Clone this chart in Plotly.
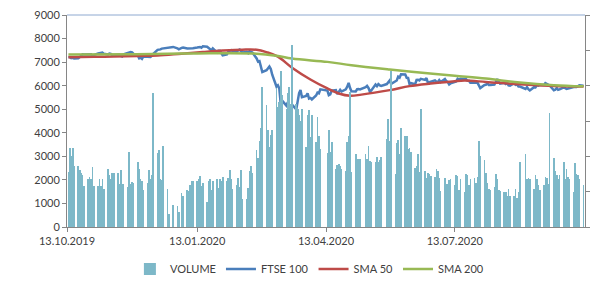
import pandas as pd
import plotly.graph_objects as go

# ---- trading days (UK market, 14.10.2019 - 12.10.2020) ----
holidays = ["2019-12-25", "2019-12-26", "2020-01-01", "2020-04-10",
            "2020-04-13", "2020-05-08", "2020-05-25", "2020-08-31"]
days = pd.bdate_range("2019-10-14", "2020-10-12")
days = [d for d in days if d.strftime("%Y-%m-%d") not in holidays]

ftse = [
    7213, 7211, 7168, 7182, 7150,
    7164, 7212, 7260, 7328, 7324,
    7331, 7306, 7330, 7248, 7302,
    7369, 7388, 7396, 7406, 7359,
    7328, 7365, 7351, 7292, 7303,
    7307, 7323, 7262, 7238, 7327,
    7396, 7405, 7430, 7416, 7347,
    7285, 7158, 7188, 7137, 7240,
    7233, 7213, 7216, 7273, 7353,
    7519, 7525, 7541, 7573, 7582,
    7623, 7632, 7645,
    7587, 7542, 7604, 7622,
    7575, 7573, 7574, 7598, 7588,
    7617, 7622, 7642, 7609, 7675,
    7651, 7611, 7571, 7507, 7586,
    7412, 7481, 7484, 7381, 7286,
    7326, 7439, 7483, 7505, 7466,
    7446, 7499, 7534, 7452, 7409,
    7433, 7382, 7457, 7436, 7404,
    7157, 7018, 7042, 6796, 6581,
    6654, 6718, 6815, 6705, 6463,
    5965, 6018, 5876, 5237, 5366,
    5151, 5294, 5080, 5151, 5191,
    4994, 5446, 5688, 5816, 5510,
    5563, 5672, 5454, 5480, 5416,
    5582, 5704, 5678, 5843,
    5791, 5597, 5628, 5787,
    5812, 5641, 5770, 5826, 5752,
    5846, 5958, 6115, 5901, 5763,
    5753, 5849, 5854, 5841,
    5939, 5994, 5904, 5741, 5800,
    6049, 5980, 6067, 6015, 5993,
    6068, 6144, 6219, 6077,
    6166, 6220, 6382, 6341, 6484,
    6473, 6335, 6329, 6076, 6105,
    6064, 6243, 6253, 6224, 6292,
    6245, 6320, 6124, 6147, 6159,
    6225, 6170, 6158, 6240, 6157,
    6286, 6189, 6156, 6050, 6095,
    6176, 6180, 6293, 6250, 6290,
    6261, 6269, 6207, 6211, 6123,
    6104, 6129, 6132, 5990, 5898,
    6032, 6036, 6104, 6026, 6032,
    6050, 6154, 6280, 6185, 6090,
    6127, 6076, 6111, 6013, 6001,
    6104, 6037, 6045, 5964, 5963,
    5862, 5941, 5851, 5799,
    5937, 5930, 6012, 6003, 6032,
    6026, 6105, 6078, 6049, 6007,
    5804, 5829, 5899, 5822, 5843,
    5927, 5897, 5866, 5879, 5902,
    5942, 5949, 5946, 5978, 6017,
    6001,
]

volume = [
    2330, 3370, 3000, 3370, 2600,
    2570, 2400, 2300, 2190, 1720,
    2030, 2120, 2020, 2530, 1750,
    1750, 2020, 1760, 2020, 1600,
    2460, 2190, 2020, 2310, 2300,
    2290, 1820, 2440, 1830, 1820,
    1700, 3170, 1820, 1890, 1870,
    2780, 2470, 2040, 1950, 1550,
    1850, 2440, 2040, 2190, 5700,
    3140, 3280, 2030, 1990, 3460,
    1620, 570, 940,
    910, 650, 1450, 1330,
    1560, 1530, 1800, 1960, 1950,
    1950, 2040, 2170, 1720, 1860,
    1050, 1960, 2020, 1590, 1970,
    2020, 1640, 2030, 1950, 2130,
    1950, 2100, 2440, 2020, 1620,
    1780, 2090, 1700, 2430, 1180,
    1190, 1650, 2360, 2600, 2300,
    3250, 2930, 3660, 4200, 5940,
    5200, 4100, 3400, 3900, 4100,
    5880, 5100, 5300, 6630, 5590,
    5030, 5670, 5960, 5240, 7740,
    5240, 5000, 4740, 4520, 5030,
    3390, 4770, 4980, 3800, 4740,
    3610, 4690, 3860, 3320,
    3160, 4100, 3180, 3600,
    2460, 2640, 2670, 2600, 2470,
    2370, 3590, 3860, 5740, 2340,
    3110, 2900, 2900, 2900,
    3120, 2900, 3440, 2800, 2780,
    2780, 2980, 2780, 2830, 2980,
    3730, 4600, 3630, 6620,
    2230, 3560, 3680, 3120, 4190,
    3880, 3860, 3320, 3350, 3170,
    2500, 2580, 3100, 2330, 5030,
    2360, 2090, 2300, 2270, 2160,
    2140, 2460, 2360, 2070, 1520,
    2070, 1830, 1820, 2000, 2040,
    1790, 2220, 2160, 1550, 2040,
    1480, 2260, 2190, 1800, 2020,
    2090, 1850, 2130, 3660, 3000,
    2830, 2290, 1870, 1620, 1560,
    1680, 2260, 2040, 1550, 1530,
    1500, 1500, 1330, 1620, 1330,
    1330, 1600, 1240, 1480, 2750,
    3110, 2020, 2070, 2040,
    1620, 2220, 2020, 1780, 1590,
    1790, 2120, 2060, 1830, 4830,
    2950, 2360, 2220, 2040, 2220,
    2740, 2020, 2470, 2140, 2040,
    1500, 2730, 2260, 2190, 2020,
    1790,
]

sma50_dates = ["2019-10-14", "2019-11-01", "2019-11-15", "2019-12-02", "2019-12-16",
               "2020-01-02", "2020-01-17", "2020-01-31", "2020-02-14", "2020-02-24",
               "2020-03-02", "2020-03-10", "2020-03-20", "2020-04-02", "2020-04-14",
               "2020-04-22", "2020-04-30", "2020-05-08", "2020-05-28", "2020-06-11",
               "2020-06-26", "2020-07-13", "2020-07-20", "2020-08-04", "2020-08-28",
               "2020-09-21", "2020-10-12"]
sma50 = [7210, 7225, 7235, 7260, 7280,
         7360, 7430, 7490, 7530, 7525,
         7420, 7230, 6760, 6260, 5880,
         5670, 5570, 5620, 5810, 5980,
         6090, 6190, 6215, 6160, 6060,
         5990, 5960]

sma200_dates = ["2019-10-14", "2019-12-01", "2020-01-13", "2020-02-24", "2020-03-09",
                "2020-03-20", "2020-04-14", "2020-05-01", "2020-05-28", "2020-06-20",
                "2020-07-13", "2020-08-04", "2020-08-28", "2020-09-21", "2020-10-12"]
sma200 = [7320, 7330, 7370, 7360, 7270,
          7150, 7010, 6870, 6690, 6550,
          6420, 6300, 6130, 6020, 5970]

tick_dates = ["2019-10-13", "2020-01-13", "2020-04-13", "2020-07-13"]
tick_text = ["13.10.2019", "13.01.2020", "13.04.2020", "13.07.2020"]

FONT = "Lato, 'Open Sans', sans-serif"
TXT = "#404040"

fig = go.Figure()
fig.add_trace(go.Bar(x=days, y=volume, name="VOLUME", yaxis="y2",
                     marker=dict(color="#7DB8C8", line=dict(width=0)),
                     width=0.5 * 86400000))
fig.add_trace(go.Scatter(x=days, y=ftse, name="FTSE 100", mode="lines",
                         line=dict(color="#4A7EBB", width=2.5)))
fig.add_trace(go.Scatter(x=sma50_dates, y=sma50, name="SMA 50", mode="lines",
                         line=dict(color="#BE4B48", width=2.5, shape="spline")))
fig.add_trace(go.Scatter(x=sma200_dates, y=sma200, name="SMA 200", mode="lines",
                         line=dict(color="#98B954", width=2.5, shape="spline")))

fig.update_layout(
    width=591, height=273,
    margin=dict(l=59, r=14, t=7, b=54, autoexpand=False),
    paper_bgcolor="white", plot_bgcolor="white",
    font=dict(family=FONT, size=11, color=TXT),
    showlegend=True,
    legend=dict(orientation="h", x=0.51, xanchor="center", xref="container",
                y=0.044, yanchor="middle", yref="container",
                font=dict(size=11, color=TXT), itemwidth=30, traceorder="normal"),
    bargap=0,
    xaxis=dict(type="date", range=["2019-10-13", "2020-10-13"],
               tickvals=tick_dates, ticktext=tick_text, ticklabeloverflow="allow",
               showgrid=False, zeroline=False, showline=True, linecolor="#868686",
               linewidth=1, ticks="outside", ticklen=4, tickcolor="#868686",
               tickfont=dict(size=11, color=TXT)),
    yaxis=dict(range=[0, 9000], dtick=1000, showgrid=False, zeroline=False,
               ticklabeloverflow="allow",
               showline=True, linecolor="#868686", linewidth=1,
               ticks="outside", ticklen=4, tickcolor="#868686",
               tickfont=dict(size=11, color=TXT)),
    yaxis2=dict(range=[0, 9000], dtick=1500, overlaying="y", side="right",
                showgrid=False, zeroline=False, showline=True, linecolor="#868686",
                linewidth=1, ticks="outside", ticklen=4, tickcolor="#868686",
                showticklabels=False),
    shapes=[dict(type="line", xref="paper", yref="paper", x0=0, x1=1, y0=1, y1=1,
                 line=dict(color="#8EA9D0", width=1))],
)

fig.write_html("out.html")
